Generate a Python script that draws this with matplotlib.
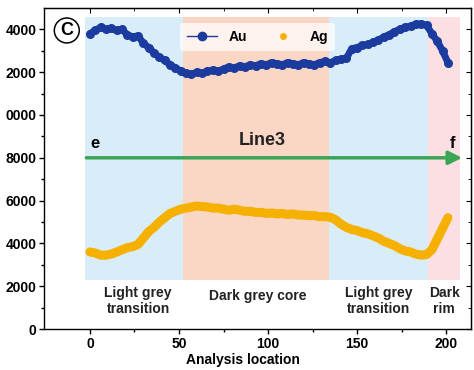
import matplotlib
matplotlib.use("Agg")
import matplotlib.pyplot as plt
from matplotlib.lines import Line2D

plt.rcParams['font.family'] = ['Liberation Sans', 'DejaVu Sans']

# ---- data ----
positions = [0, 3, 6, 9, 12, 15, 18, 21, 24, 27, 30, 33, 36, 39, 42, 45, 48, 51, 54, 57,
             60, 63, 66, 69, 72, 75, 78, 81, 84, 87, 90, 93, 96, 99, 102, 105, 108, 111,
             114, 117, 120, 123, 126, 129, 132, 135, 138, 141, 144, 147, 150, 153, 156,
             159, 162, 165, 168, 171, 174, 177, 180, 183, 186, 189, 192, 195, 198, 201]
au = [13800, 13950, 14100, 14000, 14050, 13950, 14000, 13750, 13650, 13700, 13350, 13150,
      12900, 12700, 12550, 12350, 12200, 12050, 11950, 11900, 12000, 11950, 12050, 12100,
      12050, 12150, 12250, 12200, 12300, 12250, 12350, 12300, 12400, 12350, 12450, 12400,
      12350, 12450, 12400, 12350, 12450, 12400, 12350, 12450, 12500, 12450, 12550, 12600,
      12650, 13100, 13150, 13250, 13300, 13400, 13500, 13650, 13750, 13900, 14000, 14100,
      14150, 14250, 14250, 14200, 13800, 13450, 13000, 12450]
ag = [3600, 3550, 3450, 3450, 3500, 3600, 3700, 3800, 3850, 3950, 4250, 4550, 4750, 5000,
      5200, 5400, 5500, 5600, 5650, 5700, 5750, 5720, 5700, 5650, 5650, 5600, 5550, 5600,
      5550, 5500, 5500, 5450, 5450, 5400, 5420, 5380, 5400, 5350, 5380, 5330, 5320, 5300,
      5300, 5250, 5250, 5220, 5100, 4900, 4750, 4650, 4600, 4500, 4450, 4350, 4250, 4100,
      4000, 3900, 3750, 3650, 3600, 3500, 3450, 3480, 3700, 4200, 4700, 5200]

zone_starts = [-3, 52, 134, 190]
zone_ends = [52, 134, 190, 208]
zone_colors = ['#d9edf9', '#fad6c4', '#d9edf9', '#fbdfe3']
zone_labels = ['Light grey\ntransition', 'Dark grey core', 'Light grey\ntransition', 'Dark\nrim']
zone_label_x = [27, 94, 162, 199]
zone_label_y = [1300, 1550, 1300, 1300]

xticks = [0, 50, 100, 150, 200]
yticks = [0, 2000, 4000, 6000, 8000, 10000, 12000, 14000]
ytick_labels = ['0', '2000', '4000', '6000', '8000', '0000', '2000', '4000']

au_color = '#1b3c9e'
ag_color = '#f5b000'
arrow_color = '#3aa655'

fig = plt.figure(figsize=(4.74, 3.70), dpi=100)
ax = fig.add_axes([0.0928, 0.1108, 0.901, 0.8676])

ax.set_xlim(-25.8, 214)
ax.set_ylim(0, 15000)

for s, e, c in zip(zone_starts, zone_ends, zone_colors):
    ax.axvspan(s, e, ymin=2290 / 15000, ymax=14600 / 15000, color=c, lw=0, zorder=0)

ax.plot(positions, ag, color=ag_color, lw=6.5, solid_capstyle='round',
        solid_joinstyle='round', zorder=3)
ax.plot(positions, au, color=au_color, lw=5, solid_capstyle='round',
        solid_joinstyle='round', zorder=4)
ax.plot(positions, au, color=au_color, lw=0, marker='o', markersize=6.5,
        markeredgewidth=0, zorder=4)

ax.annotate('', xy=(209, 8000), xytext=(-2, 8000),
            arrowprops=dict(arrowstyle='-|>', color=arrow_color, lw=2.5,
                            mutation_scale=20, shrinkA=0, shrinkB=0), zorder=5)
ax.text(0, 8650, 'e', fontsize=12, fontweight='bold', ha='left', va='center')
ax.text(202, 8650, 'f', fontsize=12, fontweight='bold', ha='left', va='center')
ax.text(97, 8800, 'Line3', fontsize=13, fontweight='bold', ha='center', va='center',
        color='#222222')

for x, y, t in zip(zone_label_x, zone_label_y, zone_labels):
    ax.text(x, y, t, fontsize=10, fontweight='bold', ha='center', va='center',
            color='#222222', linespacing=1.15)

ax.text(-13, 13950, 'C', fontsize=13, fontweight='bold', ha='center', va='center',
        bbox=dict(boxstyle='circle,pad=0.22', fc='white', ec='black', lw=1.1), zorder=6)

handles = [Line2D([], [], color=au_color, lw=1, marker='o', markersize=6),
           Line2D([], [], color=ag_color, lw=0, marker='o', markersize=4)]
leg = ax.legend(handles, ['Au', 'Ag'], loc='upper center', ncol=2, frameon=True,
                bbox_to_anchor=(0.5, 0.975), prop=dict(weight='bold', size=10),
                handlelength=2.2, columnspacing=1.5, borderpad=0.5)
leg.get_frame().set_facecolor('white')
leg.get_frame().set_alpha(0.7)
leg.get_frame().set_linewidth(0)

ax.set_xticks(xticks)
ax.set_xticks([25, 75, 125, 175], minor=True)
ax.set_yticks(yticks)
ax.set_yticklabels(ytick_labels)
ax.set_yticks(range(1000, 15000, 2000), minor=True)

ax.tick_params(axis='both', which='both', direction='out', length=3.5, width=1,
               labelsize=10, pad=2)
ax.tick_params(axis='both', which='minor', length=2.5)
for lab in ax.get_xticklabels() + ax.get_yticklabels():
    lab.set_fontweight('bold')

sec_x = ax.secondary_xaxis('top')
sec_x.set_xticks(xticks)
sec_x.set_xticks([25, 75, 125, 175], minor=True)
sec_x.tick_params(which='both', direction='in', length=3.5, labeltop=False)
sec_x.tick_params(which='minor', length=2.5)
sec_y = ax.secondary_yaxis('right')
sec_y.set_yticks(yticks)
sec_y.set_yticks(range(1000, 15000, 2000), minor=True)
sec_y.tick_params(which='both', direction='in', length=3.5, labelright=False)
sec_y.tick_params(which='minor', length=2.5)

ax.set_xlabel('Analysis location', fontsize=10, fontweight='bold', labelpad=0)
ax.xaxis.set_label_coords(0.466, -0.075)

for sp in ax.spines.values():
    sp.set_linewidth(1)

fig.savefig('out.png', dpi=100)
